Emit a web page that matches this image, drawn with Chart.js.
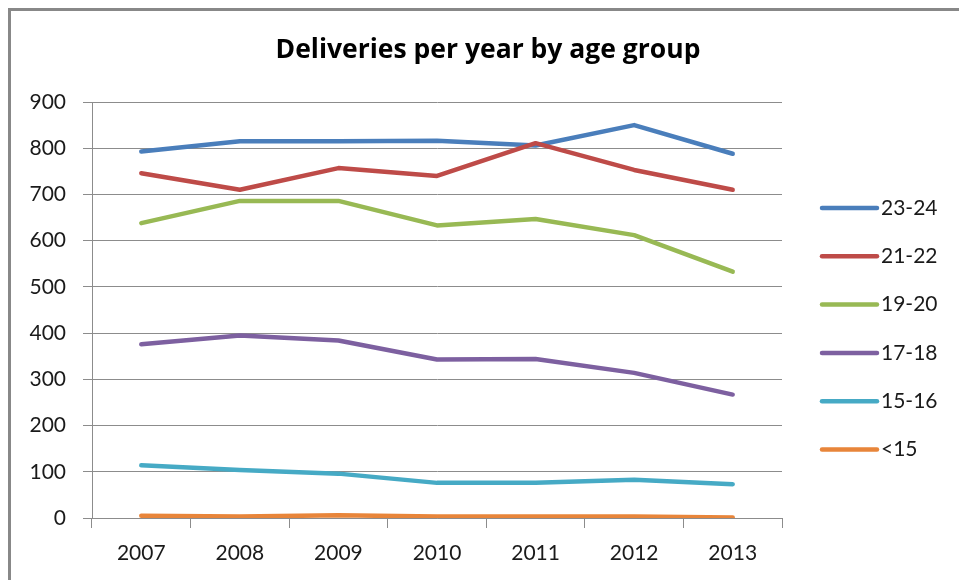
<!DOCTYPE html>
<html>
<head>
<meta charset="utf-8">
<title>Deliveries per year by age group</title>
<script src="https://cdn.jsdelivr.net/npm/chart.js@4.4.0/dist/chart.umd.min.js"></script>
<style>
  html, body { margin: 0; padding: 0; background: #fff; overflow: hidden; }
  #wrap { position: relative; width: 959px; height: 580px; overflow: hidden; }
  #frame { position: absolute; left: 8px; top: 8px; width: 1000px; height: 1000px;
           border: 3px solid #888; box-sizing: border-box; }
  #chart { position: absolute; left: 0; top: 0; }
</style>
</head>
<body>
<div id="wrap">
  <div id="frame"></div>
  <canvas id="chart" width="959" height="580"></canvas>
</div>
<script>
// Data
const years = ['2007', '2008', '2009', '2010', '2011', '2012', '2013'];
const ageGroups = ['23-24', '21-22', '19-20', '17-18', '15-16', '<15'];
const age23to24 = [793, 815, 815, 816, 806, 850, 788];
const age21to22 = [746, 710, 757, 740, 811, 753, 710];
const age19to20 = [638, 686, 686, 633, 647, 612, 533];
const age17to18 = [376, 395, 384, 343, 344, 314, 267];
const age15to16 = [114, 104, 96, 76, 76, 83, 73];
const under15 = [5, 3, 6, 3, 3, 3, 1];
const yTicks = [0, 100, 200, 300, 400, 500, 600, 700, 800, 900];

const seriesValues = [age23to24, age21to22, age19to20, age17to18, age15to16, under15];
const seriesColors = ['#4A7EBB', '#BE4B48', '#98B954', '#7D60A0', '#46AAC5', '#E8853A'];

const FONT = 'Lato, "Open Sans", sans-serif';
const TITLE_FONT = '"Open Sans", Lato, sans-serif';
const GRID = '#8c8c8c';

// Title centred over the whole frame, not just the plot area
const titlePlugin = {
    id: 'frameTitle',
    afterDraw(chart) {
        const ctx = chart.ctx;
        ctx.save();
        ctx.font = 'bold 26.5px ' + TITLE_FONT;
        ctx.fillStyle = '#000';
        ctx.textAlign = 'center';
        ctx.textBaseline = 'middle';
        ctx.fillText('Deliveries per year by age group', 488, 50);
        ctx.restore();
    }
};

// Excel-style legend column to the right of the plot
const sideLegend = {
    id: 'sideLegend',
    afterDraw(chart) {
        const ctx = chart.ctx;
        const x0 = chart.chartArea.right + 40;
        ctx.save();
        chart.data.datasets.forEach(function (ds, i) {
            const y = 208 + i * 48.3;
            ctx.beginPath();
            ctx.strokeStyle = ds.borderColor;
            ctx.lineWidth = 4.5;
            ctx.lineCap = 'round';
            ctx.moveTo(x0, y);
            ctx.lineTo(x0 + 55, y);
            ctx.stroke();
            ctx.font = '21px ' + FONT;
            ctx.fillStyle = '#1a1a1a';
            ctx.textAlign = 'left';
            ctx.textBaseline = 'middle';
            ctx.fillText(ds.label, x0 + 59, y);
        });
        ctx.restore();
    }
};

const datasets = ageGroups.map(function (name, i) {
    return {
        label: name,
        data: seriesValues[i],
        borderColor: seriesColors[i],
        backgroundColor: seriesColors[i],
        borderWidth: 4.5,
        borderCapStyle: 'round',
        borderJoinStyle: 'round',
        pointRadius: 0,
        tension: 0,
        // later series sit on top, as in the spreadsheet
        order: ageGroups.length - i
    };
});

new Chart(document.getElementById('chart'), {
    type: 'line',
    data: { labels: years, datasets: datasets },
    options: {
        responsive: false,
        animation: false,
        events: [],
        layout: { padding: { left: 10, right: 177, top: 102, bottom: 0 } },
        plugins: {
            legend: { display: false },
            title: { display: false },
            tooltip: { enabled: false }
        },
        scales: {
            x: {
                offset: true,
                grid: { display: true, offset: true, drawOnChartArea: false, color: GRID, tickLength: 10, lineWidth: 1 },
                border: { display: true, color: GRID, width: 1 },
                ticks: { color: '#1a1a1a', font: { family: FONT, size: 21 }, padding: 13, maxRotation: 0 },
                afterFit(scale) { scale.height = 62; }
            },
            y: {
                min: 0,
                max: 900,
                afterBuildTicks(scale) { scale.ticks = yTicks.map(v => ({ value: v })); },
                grid: { color: GRID, tickLength: 9, lineWidth: 1 },
                border: { display: true, color: GRID, width: 1 },
                ticks: { color: '#1a1a1a', font: { family: FONT, size: 21 }, padding: 17 },
                afterFit(scale) { scale.width = 82; }
            }
        }
    },
    plugins: [titlePlugin, sideLegend]
});
</script>
</body>
</html>
